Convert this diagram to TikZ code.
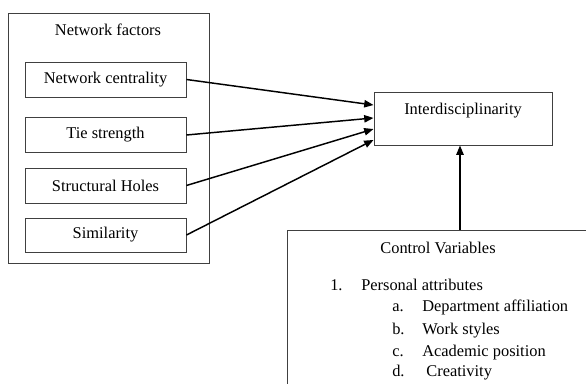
\documentclass[tikz,border=0pt]{standalone}
\usepackage{fontspec}
\setmainfont{Liberation Serif}
\usetikzlibrary{arrows.meta}
\tikzset{box/.style={draw=black!75,line width=0.7pt,inner sep=0pt},
 arr/.style={line width=1.1pt,-{Triangle[length=7pt,width=5.5pt]}},
 item/.style={anchor=west,inner sep=0pt,text height=8.5pt,text depth=2.5pt}}
\begin{document}
\begin{tikzpicture}[x=0.75pt,y=-0.75pt,font=\fontsize{12.3}{14}\selectfont]
 \useasboundingbox (0,0) rectangle (586,384); \clip (0,0) rectangle (586,384);
 \node[box,minimum width=150.75pt,minimum height=187.5pt] (nf) at (108.5,138) {};
 \node (nftitle) at (108,30) {Network factors};
 \node[box,minimum width=120.75pt,minimum height=26.25pt] (nc) at (105.5,79.5) {Network centrality};
 \node[box,minimum width=120.75pt,minimum height=26.25pt] (ts) at (105.5,135) {Tie strength};
 \node[box,minimum width=120.75pt,minimum height=26.25pt] (sh) at (105.5,185.5) {Structural Holes};
 \node[box,minimum width=120.75pt,minimum height=25.5pt] (sim) at (105.5,235) {Similarity};
 \node[box,minimum width=133.5pt,minimum height=39.75pt,
  label={[anchor=north,yshift=-5pt]north:Interdisciplinarity}] (inter) at (463,118.5) {};
 \node[box,anchor=north west,minimum width=250pt,minimum height=135pt] (ctrl) at (287,230) {};
 \node (ctitle) at (438,248) {Control Variables};
 \node[item] (n1) at (330,287) {1.}; \node[item] (p1) at (361,287) {Personal attributes};
 \foreach \l/\t/\y in {a/Department affiliation/308,b/Work styles/331,c/Academic position/353,d/\ Creativity/373}{
  \node[item] (l\l) at (392,\y) {\l.}; \node[item] (t\l) at (422,\y) {\t};}
 \draw[arr] (nc.east) -- ([yshift=10.1pt]inter.west);
 \draw[arr] (ts.east) -- ([yshift=0.4pt]inter.west);
 \draw[arr] (sh.east) -- ([yshift=-7.9pt]inter.west);
 \draw[arr] (sim.east) -- ([yshift=-16.1pt]inter.west);
 \draw[arr] ([xshift=-2.25pt]inter.south |- ctrl.north) -- ([xshift=-2.25pt]inter.south);
\end{tikzpicture}
\end{document}
